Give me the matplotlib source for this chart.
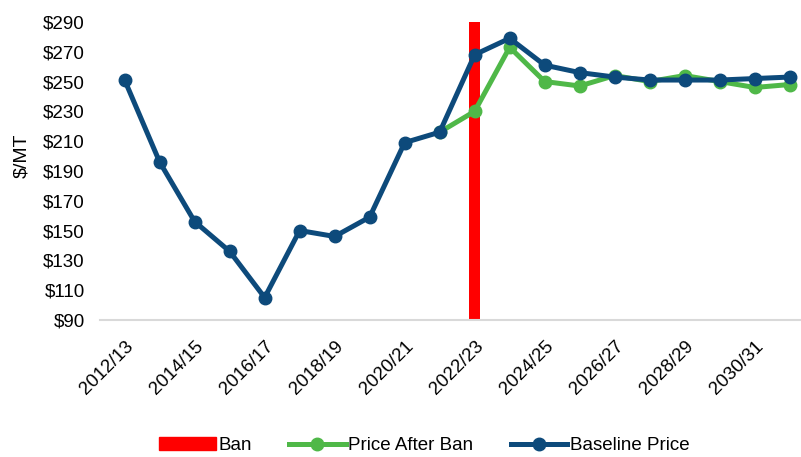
import numpy as np
import matplotlib.pyplot as plt
from matplotlib.patches import Patch
from matplotlib.lines import Line2D

plt.rcParams['font.family'] = ['Liberation Sans', 'DejaVu Sans']

years = ['2012/13', '2013/14', '2014/15', '2015/16', '2016/17', '2017/18',
         '2018/19', '2019/20', '2020/21', '2021/22', '2022/23', '2023/24',
         '2024/25', '2025/26', '2026/27', '2027/28', '2028/29', '2029/30',
         '2030/31', '2031/32']
baseline = [251, 196, 156, 136, 105, 150, 146, 159, 209, 216, 268, 279,
            261, 256, 253, 251, 251, 251, 252, 253]
after_ban = [np.nan] * 9 + [216, 230, 273, 250, 247, 254, 250, 254, 250, 246, 248]
ban_year = '2022/23'
ban_range = (90, 290)

blue = '#0d4a7b'
green = '#4fb848'
red = '#ff0000'

x = np.arange(len(years))
fig = plt.figure(figsize=(8.01, 4.57), dpi=100)
ax = fig.add_axes([0.125, 0.30, 0.874, 0.652])

bi = years.index(ban_year)
ax.bar(bi, ban_range[1] - ban_range[0], bottom=ban_range[0], width=0.31,
       color=red, zorder=1)
ax.plot(x, after_ban, color=green, lw=3.6, marker='o', ms=9, zorder=2)
ax.plot(x, baseline, color=blue, lw=3.6, marker='o', ms=9, zorder=3)

ax.set_xlim(-0.7, len(years) - 0.7)
ax.set_ylim(90, 290)
ax.set_yticks(np.arange(90, 291, 20))
ax.set_yticklabels(['$%d' % v for v in range(90, 291, 20)], fontsize=13.5)
ax.set_xticks(x[::2])
ax.set_xticklabels(years[::2], rotation=45, ha='right', rotation_mode='anchor',
                   fontsize=13.5)
ax.set_ylabel('$/MT', fontsize=14)
ax.yaxis.set_label_coords(-0.1, 0.55)
ax.tick_params(length=0)
ax.tick_params(axis='y', pad=11)
ax.tick_params(axis='x', pad=13)
for s in ['top', 'right', 'left']:
    ax.spines[s].set_visible(False)
ax.spines['bottom'].set_color('#d9d9d9')
ax.spines['bottom'].set_linewidth(1.5)

handles = [Patch(color=red, label='Ban'),
           Line2D([], [], color=green, lw=3.6, marker='o', ms=9, label='Price After Ban'),
           Line2D([], [], color=blue, lw=3.6, marker='o', ms=9, label='Baseline Price')]
fig.legend(handles=handles, loc='center', bbox_to_anchor=(0.53, 0.025),
           ncol=3, frameon=False, fontsize=13.5, columnspacing=2.0,
           handlelength=3.0, handletextpad=0.15)

fig.savefig('out.png', dpi=100)
